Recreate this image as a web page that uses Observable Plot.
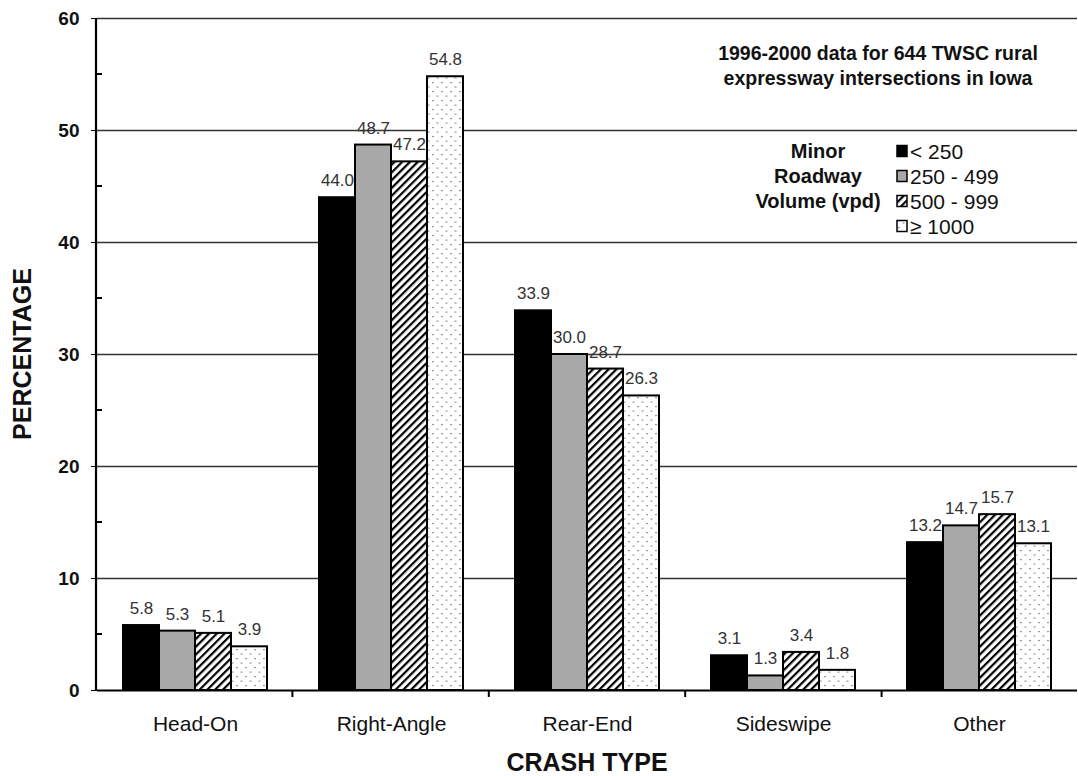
<!DOCTYPE html>
<html>
<head>
<meta charset="utf-8">
<script src="https://cdn.jsdelivr.net/npm/d3@7"></script>
<script src="https://cdn.jsdelivr.net/npm/@observablehq/plot@0.6"></script>
<style>
  html, body { margin: 0; padding: 0; background: white; }
  #chart { position: relative; width: 1078px; height: 776px; }
  svg { font-family: "Liberation Sans", Arial, sans-serif; }
  [aria-label^="fx-axis"] text { font-size: 21px; fill: #111; }
  [aria-label^="y-axis"] text { font-size: 19px; font-weight: bold; fill: #111; }
</style>
</head>
<body>
<div id="chart"></div>
<script>
const crashTypes = ["Head-On", "Right-Angle", "Rear-End", "Sideswipe", "Other"];
const volumes = ["< 250", "250 - 499", "500 - 999", "≥ 1000"];
const volLt250 = [5.8, 44.0, 33.9, 3.1, 13.2];
const vol250to499 = [5.3, 48.7, 30.0, 1.3, 14.7];
const vol500to999 = [5.1, 47.2, 28.7, 3.4, 15.7];
const volGe1000 = [3.9, 54.8, 26.3, 1.8, 13.1];
const yTicks = [0, 10, 20, 30, 40, 50, 60];
const yMinorTicks = [5, 15, 25, 35, 45, 55];
const noteLines = ["1996-2000 data for 644 TWSC rural", "expressway intersections in Iowa"];
const legendTitle = ["Minor", "Roadway", "Volume (vpd)"];
const fills = ["#000", "#a8a8a8", "url(#hatch)", "url(#dots)"];

const seriesValues = [volLt250, vol250to499, vol500to999, volGe1000];
const rows = crashTypes.flatMap((t, i) => volumes.map((v, j) => ({type: t, vol: v, value: seriesValues[j][i]})));

const W = 1078, H = 776, ML = 96, MR = 0, MT = 18, MB = 86;

const plot = Plot.plot({
  width: W, height: H,
  marginLeft: ML, marginRight: MR, marginTop: MT, marginBottom: MB,
  style: {fontFamily: "Liberation Sans, Arial, sans-serif", background: "white", overflow: "visible"},
  facet: {data: rows, x: "type", marginLeft: ML, marginRight: MR, marginTop: MT, marginBottom: MB},
  fx: {domain: crashTypes, padding: 0, axis: "bottom", tickSize: 0, tickPadding: 26, label: null},
  x: {domain: volumes, paddingInner: 0, paddingOuter: 0.71, axis: null},
  y: {domain: [0, 60], ticks: yTicks, tickSize: 6, tickPadding: 12, label: null, tickFormat: d => String(d)},
  color: {domain: volumes, range: fills},
  marks: [
    Plot.ruleY(yTicks.slice(1), {stroke: "#333", strokeWidth: 1.3}),
    Plot.barY(rows, {x: "vol", y: "value", fill: "vol", stroke: "#000", strokeWidth: 2}),
    Plot.text(rows, {x: "vol", y: "value", text: d => d.value.toFixed(1), dy: -17, fontSize: 17, fill: "#333"}),
    Plot.ruleY([0], {stroke: "#000", strokeWidth: 2.2})
  ]
});

document.getElementById("chart").appendChild(plot);
const svgNode = plot.tagName.toLowerCase() === "svg" ? plot : plot.querySelector("svg");
const svg = d3.select(svgNode);

// patterns
const defs = svg.insert("defs", ":first-child");
const hatch = defs.append("pattern").attr("id", "hatch").attr("patternUnits", "userSpaceOnUse")
  .attr("width", 5.5).attr("height", 5.5).attr("patternTransform", "rotate(45)");
hatch.append("rect").attr("width", 5.5).attr("height", 5.5).attr("fill", "#fff");
hatch.append("rect").attr("width", 2.2).attr("height", 5.5).attr("fill", "#000");
const dots = defs.append("pattern").attr("id", "dots").attr("patternUnits", "userSpaceOnUse")
  .attr("width", 9).attr("height", 9);
dots.append("rect").attr("width", 9).attr("height", 9).attr("fill", "#fff");
dots.append("rect").attr("x", 1).attr("y", 1).attr("width", 2).attr("height", 1.2).attr("fill", "#999");
dots.append("rect").attr("x", 5.5).attr("y", 5.5).attr("width", 2).attr("height", 1.2).attr("fill", "#999");

// scales
const ySc = plot.scale("y");
const y = d3.scaleLinear(ySc.domain, ySc.range);
const fxSc = plot.scale("fx");
const fx = d3.scaleBand(fxSc.domain, fxSc.range).paddingInner(fxSc.paddingInner ?? 0).paddingOuter(fxSc.paddingOuter ?? 0);

const deco = svg.append("g").attr("font-family", "Liberation Sans, Arial, sans-serif");
// y axis line
deco.append("line").attr("x1", ML).attr("x2", ML).attr("y1", y(0)).attr("y2", y(60))
  .attr("stroke", "#000").attr("stroke-width", 2.2);
// minor ticks (inward)
deco.selectAll("line.minor").data(yMinorTicks).join("line").attr("class", "minor")
  .attr("x1", ML).attr("x2", ML + 6).attr("y1", d => y(d)).attr("y2", d => y(d))
  .attr("stroke", "#000").attr("stroke-width", 2);
// category boundary ticks
deco.selectAll("line.cat").data(crashTypes.slice(1)).join("line").attr("class", "cat")
  .attr("x1", d => fx(d)).attr("x2", d => fx(d)).attr("y1", y(0)).attr("y2", y(0) + 7)
  .attr("stroke", "#000").attr("stroke-width", 2);
// axis titles
deco.append("text").attr("transform", `translate(22,${(y(0) + y(60)) / 2}) rotate(-90)`)
  .attr("text-anchor", "middle").attr("dominant-baseline", "central")
  .attr("font-size", 25).attr("font-weight", "bold").attr("fill", "#111").text("PERCENTAGE");
deco.append("text").attr("x", (ML + W - MR) / 2).attr("y", 762)
  .attr("text-anchor", "middle").attr("dominant-baseline", "central")
  .attr("font-size", 25).attr("font-weight", "bold").attr("fill", "#111").text("CRASH TYPE");
// note
deco.selectAll("text.note").data(noteLines).join("text").attr("class", "note")
  .attr("x", 878).attr("y", (d, i) => 53 + i * 25).attr("text-anchor", "middle").attr("dominant-baseline", "central")
  .attr("font-size", 19.5).attr("font-weight", "bold").attr("fill", "#111").text(d => d);
// legend title
deco.selectAll("text.lt").data(legendTitle).join("text").attr("class", "lt")
  .attr("x", 818).attr("y", (d, i) => 151 + i * 25).attr("text-anchor", "middle").attr("dominant-baseline", "central")
  .attr("font-size", 20).attr("font-weight", "bold").attr("fill", "#111").text(d => d);
// legend items
const items = deco.selectAll("g.li").data(volumes).join("g").attr("class", "li")
  .attr("transform", (d, i) => `translate(897,${151 + i * 25})`);
items.append("rect").attr("x", 0).attr("y", -5.5).attr("width", 10).attr("height", 11)
  .attr("fill", (d, i) => fills[i]).attr("stroke", "#000").attr("stroke-width", 1.5);
items.append("text").attr("x", 13).attr("y", 0).attr("text-anchor", "start").attr("dominant-baseline", "central")
  .attr("font-size", 21).attr("fill", "#111").text(d => d);
</script>
</body>
</html>
